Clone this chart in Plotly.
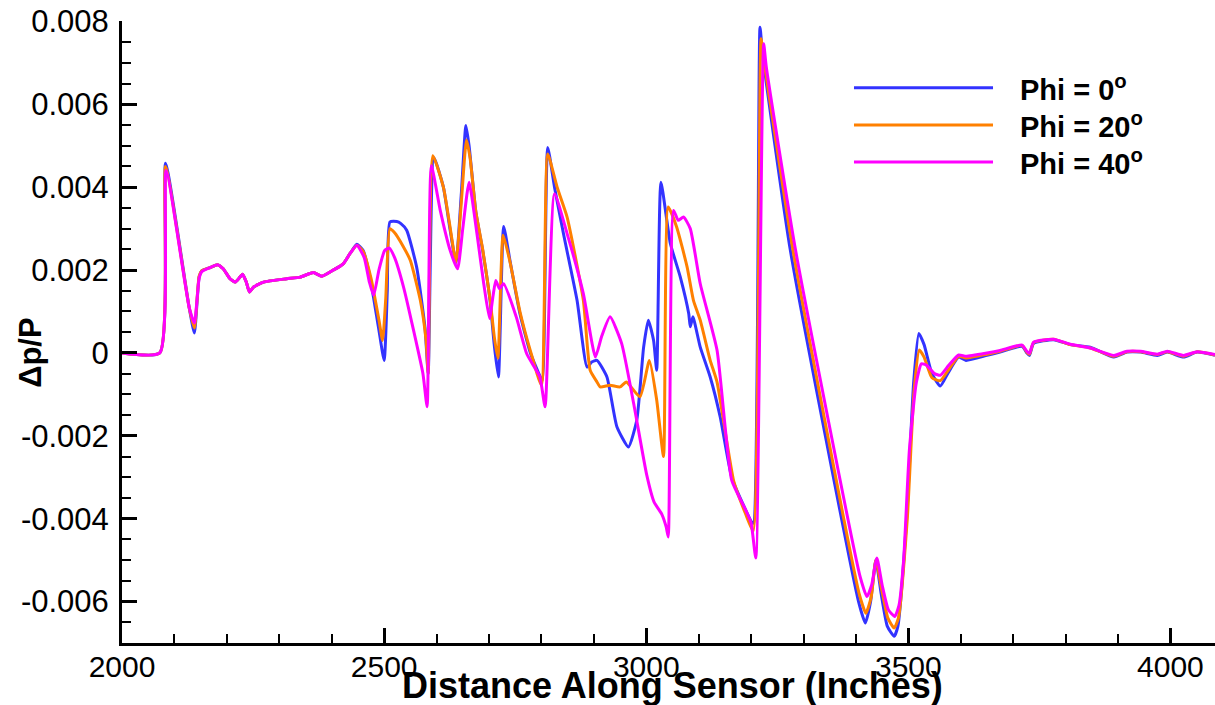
import plotly.graph_objects as go

# Pressure signature along the sensor for three azimuth angles
dist_phi0 = [2000, 2072, 2083, 2128, 2138, 2147, 2152, 2168, 2182, 2193, 2206, 2216, 2225, 2230,
             2237, 2243, 2251, 2270, 2314, 2340, 2365, 2381, 2403, 2422, 2435, 2448, 2460, 2473,
             2489, 2500, 2506, 2511, 2524, 2532, 2543, 2562, 2578, 2584, 2595, 2613, 2625, 2637,
             2647, 2656, 2662, 2675, 2688, 2702, 2710, 2718, 2728, 2740, 2759, 2779, 2798, 2802,
             2812, 2825, 2842, 2868, 2887, 2896, 2906, 2925, 2944, 2966, 2982, 2995, 3004, 3014,
             3020, 3028, 3046, 3065, 3081, 3084, 3089, 3103, 3122, 3141, 3163, 3190, 3202, 3205,
             3217, 3222, 3275, 3405, 3418, 3428, 3438, 3448, 3460, 3473, 3480, 3497, 3510, 3520,
             3530, 3545, 3561, 3575, 3596, 3610, 3650, 3675, 3717, 3726, 3731, 3739, 3777, 3809,
             3847, 3892, 3917, 3943, 3975, 3994, 4025, 4051, 4085]
dp_phi0 = [0.0, 0.0, 0.00458, 0.0011, 0.00048, 0.00183, 0.00198, 0.00206, 0.00213, 0.00203,
           0.00179, 0.00171, 0.00183, 0.0019, 0.00171, 0.00147, 0.00159, 0.00171, 0.00179, 0.00183,
           0.00194, 0.00185, 0.002, 0.00215, 0.0024, 0.00262, 0.00247, 0.00183, 0.00063, -0.00018,
           0.0015, 0.00316, 0.00317, 0.00312, 0.00296, 0.00207, 0.0006, -0.0005, 0.00471, 0.004,
           0.00304, 0.00218, 0.0038, 0.00549, 0.005, 0.0034, 0.00247, 0.00127, 0.0002, -0.00058,
           0.00305, 0.00223, 0.00095, 0.0, -0.00058, -0.00066, 0.00496, 0.004, 0.00288, 0.00127,
           -0.00034, -0.00022, -0.00018, -0.00058, -0.00178, -0.00227, -0.00162, 0.00014, 0.00079,
           0.0003, -0.00042, 0.00412, 0.00264, 0.00183, 0.00095, 0.00063, 0.00087, 0.00014,
           -0.00058, -0.00154, -0.003, -0.0038, -0.0041, -0.0041, 0.00786, 0.0072, 0.00247,
           -0.006, -0.00652, -0.006, -0.005, -0.0058, -0.0066, -0.00684, -0.0066, -0.00395,
           -0.00073, 0.00047, 0.0002, -0.0005, -0.0008, -0.0005, -0.0001, -0.00018, -0.00006,
           0.00002, 0.00016, 0.0, -0.00006, 0.00023, 0.00032, 0.0002, 0.00014, -0.0001, 0.00002,
           0.00002, -0.00006, 0.00002, -0.0001, 0.00002, -0.00006]

dist_phi20 = [2000, 2072, 2083, 2128, 2138, 2147, 2152, 2168, 2182, 2193, 2206, 2216, 2225, 2230,
              2237, 2243, 2251, 2270, 2314, 2340, 2365, 2381, 2403, 2422, 2435, 2448, 2460, 2475,
              2490, 2497, 2503, 2511, 2520, 2535, 2550, 2569, 2580, 2584, 2593, 2613, 2625, 2637,
              2647, 2657, 2664, 2675, 2688, 2702, 2710, 2717, 2727, 2740, 2759, 2779, 2800, 2812,
              2830, 2849, 2880, 2893, 2906, 2912, 2931, 2950, 2962, 2988, 3006, 3020, 3033, 3042,
              3058, 3078, 3090, 3103, 3122, 3135, 3167, 3190, 3204, 3219, 3224, 3280, 3406, 3419,
              3429, 3438, 3449, 3461, 3473, 3481, 3498, 3511, 3521, 3530, 3545, 3561, 3577, 3596,
              3610, 3650, 3675, 3717, 3726, 3731, 3739, 3777, 3809, 3847, 3892, 3917, 3943, 3975,
              3994, 4025, 4051, 4085]
dp_phi20 = [0.0, 0.0, 0.0045, 0.0011, 0.0006, 0.00185, 0.00198, 0.00206, 0.00213, 0.00203,
            0.00179, 0.00171, 0.00183, 0.0019, 0.00171, 0.00147, 0.00159, 0.00171, 0.00179,
            0.00183, 0.00194, 0.00185, 0.002, 0.00215, 0.0024, 0.0026, 0.00245, 0.0018, 0.0008,
            0.0003, 0.0013, 0.003, 0.0029, 0.0026, 0.00223, 0.00127, 0.0003, -0.0005, 0.00476,
            0.004, 0.0031, 0.00219, 0.0036, 0.00514, 0.0047, 0.0034, 0.0025, 0.0013, 0.0004,
            -0.00013, 0.00284, 0.0022, 0.001, 0.00005, -0.00078, 0.0048, 0.004, 0.00328, 0.00127,
            -0.00042, -0.0007, -0.00082, -0.00078, -0.00082, -0.0007, -0.00106, -0.00018,
            -0.00114, -0.0025, 0.00352, 0.00304, 0.00207, 0.00127, 0.00079, -0.00018, -0.0007,
            -0.0031, -0.0039, -0.0043, 0.00758, 0.0071, 0.00247, -0.0058, -0.00628, -0.0059,
            -0.005, -0.0057, -0.0064, -0.00664, -0.0064, -0.004, -0.0009, 0.00007, -0.0001,
            -0.0006, -0.00067, -0.0004, -0.00008, -0.00012, -0.00003, 0.00004, 0.00018, 0.00002,
            -0.00003, 0.00025, 0.00033, 0.0002, 0.00012, -0.00008, 0.00003, 0.00003, -0.00004,
            0.00003, -0.00008, 0.00003, -0.00005]

dist_phi40 = [2000, 2072, 2084, 2128, 2138, 2147, 2152, 2168, 2182, 2193, 2206, 2216, 2225, 2230,
              2237, 2243, 2251, 2270, 2314, 2340, 2365, 2381, 2403, 2422, 2435, 2448, 2462, 2472,
              2480, 2490, 2501, 2510, 2520, 2537, 2556, 2574, 2582, 2590, 2607, 2626, 2640, 2650,
              2662, 2677, 2690, 2701, 2708, 2713, 2720, 2728, 2752, 2772, 2797, 2807, 2825, 2849,
              2880, 2903, 2915, 2931, 2953, 2976, 3001, 3015, 3030, 3038, 3042, 3052, 3061, 3071,
              3084, 3103, 3135, 3163, 3190, 3200, 3209, 3224, 3229, 3285, 3408, 3421, 3430, 3440,
              3450, 3462, 3474, 3482, 3491, 3502, 3515, 3525, 3535, 3550, 3561, 3577, 3596, 3610,
              3650, 3675, 3717, 3726, 3731, 3739, 3777, 3809, 3847, 3892, 3917, 3943, 3975, 3994,
              4025, 4051, 4085]
dp_phi40 = [0.0, 0.0, 0.0044, 0.0011, 0.00072, 0.0018, 0.00196, 0.00206, 0.00213, 0.00203,
            0.00179, 0.00171, 0.00183, 0.0019, 0.00171, 0.00147, 0.00159, 0.00171, 0.00179,
            0.00183, 0.00194, 0.00185, 0.002, 0.00215, 0.0024, 0.0026, 0.0023, 0.0017, 0.00139,
            0.002, 0.00247, 0.00253, 0.0023, 0.00159, 0.00055, -0.0005, -0.0013, 0.00452, 0.00344,
            0.00247, 0.00203, 0.003, 0.00412, 0.00288, 0.00167, 0.00083, 0.0014, 0.00175, 0.00155,
            0.00167, 0.00087, -0.00002, -0.00058, -0.0013, 0.00384, 0.00288, 0.00143, -0.0001,
            0.0004, 0.00087, 0.00023, -0.00122, -0.00295, -0.0036, -0.0039, -0.0042, -0.00444,
            0.00344, 0.0032, 0.00328, 0.003, 0.00167, 0.00007, -0.00307, -0.0038, -0.0041,
            -0.00495, 0.00746, 0.0069, 0.00247, -0.0054, -0.00588, -0.0056, -0.00495, -0.0056,
            -0.0062, -0.00636, -0.0061, -0.005, -0.00234, -0.00073, -0.00026, -0.0003, -0.0005,
            -0.00054, -0.0003, -0.00005, -0.00008, 0.0, 0.00006, 0.00019, 0.00004, -0.00001,
            0.00026, 0.00033, 0.00021, 0.00012, -0.00006, 0.00004, 0.00004, -0.00003, 0.00004,
            -0.00006, 0.00003, -0.00004]

series_names = ["Phi = 0<sup>o</sup>", "Phi = 20<sup>o</sup>", "Phi = 40<sup>o</sup>"]
series_colors = ["#3333FF", "#FF8000", "#FF00FF"]

y_tick_vals = [-0.006, -0.004, -0.002, 0, 0.002, 0.004, 0.006, 0.008]
y_tick_text = ["-0.006", "-0.004", "-0.002", "0", "0.002", "0.004", "0.006", "0.008"]

FONT = "Liberation Sans, Arial, Helvetica, sans-serif"

fig = go.Figure()
for xs, ys, name, color in zip([dist_phi0, dist_phi20, dist_phi40],
                               [dp_phi0, dp_phi20, dp_phi40],
                               series_names, series_colors):
    fig.add_trace(go.Scatter(x=xs, y=ys, mode="lines", name=name,
                             line=dict(color=color, width=3, shape="spline", smoothing=0.5),
                             showlegend=False))

# Hand-placed legend block at the upper right
legend_y = [0.8928, 0.8328, 0.7733]
for yy, name, color in zip(legend_y, series_names, series_colors):
    fig.add_shape(type="line", xref="paper", yref="paper", x0=0.6697, x1=0.7969, y0=yy, y1=yy,
                  line=dict(color=color, width=3))
    fig.add_annotation(xref="paper", yref="paper", x=0.8198, y=yy, xanchor="left",
                       yanchor="middle", showarrow=False, text="<b>%s</b>" % name,
                       font=dict(family=FONT, size=29, color="black"))

# Axis titles
fig.add_annotation(xref="paper", yref="paper", x=0.504, y=-0.0691, xanchor="center",
                   yanchor="middle", showarrow=False,
                   text="<b>Distance Along Sensor (Inches)</b>",
                   font=dict(family=FONT, size=36, color="black"))
fig.add_annotation(xref="paper", yref="paper", x=-0.0833, y=0.468, xanchor="center",
                   yanchor="middle", showarrow=False, textangle=-90,
                   text="<b>\u0394p/P</b>",
                   font=dict(family=FONT, size=31, color="black"))

fig.update_xaxes(range=[1999.9, 4085], tickmode="linear", tick0=2000, dtick=500,
                 ticks="inside", ticklen=15, tickwidth=3, tickcolor="black",
                 showline=True, linecolor="black", linewidth=3, showgrid=False, zeroline=False,
                 tickfont=dict(family=FONT, size=30, color="black"), ticklabelstandoff=-5,
                 minor=dict(tickmode="linear", tick0=2000, dtick=100, ticks="inside",
                            ticklen=9, tickwidth=1.5, tickcolor="black", showgrid=False))
fig.update_yaxes(range=[-0.007, 0.00801], tickmode="array", tickvals=y_tick_vals,
                 ticktext=y_tick_text, ticks="inside", ticklen=15, tickwidth=3,
                 tickcolor="black", showline=True, linecolor="black", linewidth=3,
                 showgrid=False, zeroline=False,
                 tickfont=dict(family=FONT, size=31, color="black"), ticklabelstandoff=4,
                 minor=dict(tickmode="linear", tick0=0, dtick=0.0005, ticks="inside",
                            ticklen=9, tickwidth=1.5, tickcolor="black", showgrid=False))

fig.update_layout(width=1215, height=705, margin=dict(l=122, r=0, t=21, b=62),
                  paper_bgcolor="white", plot_bgcolor="white",
                  font=dict(family=FONT, color="black"))

fig.write_html("out.html")
